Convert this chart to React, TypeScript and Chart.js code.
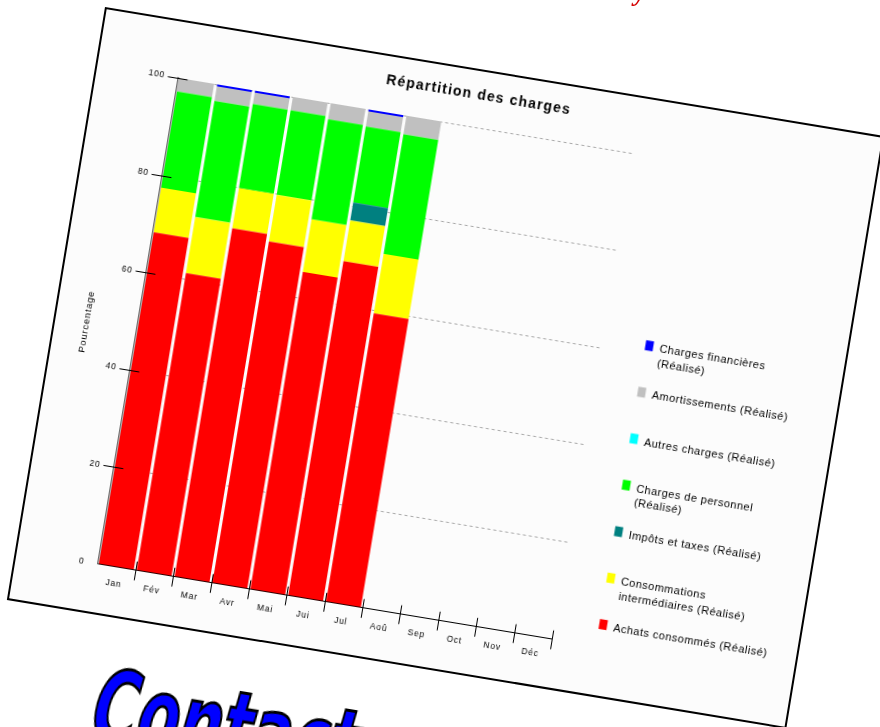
import { useEffect, useRef } from 'react';
import { Chart, registerables } from 'chart.js';

Chart.register(...registerables);

// ---- Data ----
const months = ['Jan', 'Fév', 'Mar', 'Avr', 'Mai', 'Jui', 'Jul', 'Aoû', 'Sep', 'Oct', 'Nov', 'Déc'];
const achatsConsommes = [68.3, 61.2, 71.7, 70.3, 65.3, 68.8, 59.4];
const consommationsInter = [9.2, 11.5, 8.3, 9.6, 10.8, 8.4, 12.2];
const impotsTaxes = [0, 0, 0, 0, 0, 3.7, 0];
const chargesPersonnel = [19.8, 23.9, 17.3, 17.4, 20.6, 15.6, 24.6];
const autresCharges = [0, 0, 0, 0, 0, 0, 0];
const amortissements = [2.7, 3.0, 2.3, 2.7, 3.3, 3.1, 3.8];
const chargesFinancieres = [0, 0.4, 0.4, 0, 0, 0.4, 0];
const yTicks = [0, 20, 40, 60, 80, 100];

const seriesNames = [
  'Achats consommés (Réalisé)',
  'Consommations\nintermédiaires (Réalisé)',
  'Impôts et taxes (Réalisé)',
  'Charges de\u00a0personnel\n(Réalisé)',
  'Autres charges (Réalisé)',
  'Amortissements (Réalisé)',
  'Charges financières\n(Réalisé)',
];
const seriesColors = ['#ff0000', '#ffff00', '#008080', '#00ff00', '#00ffff', '#c0c0c0', '#0000ff'];
const seriesValues = [
  achatsConsommes,
  consommationsInter,
  impotsTaxes,
  chargesPersonnel,
  autresCharges,
  amortissements,
  chargesFinancieres,
];
const chartTitle = 'Répartition des charges';
const yTitle = 'Pourcentage';

const CANVAS_W = 786;
const CANVAS_H = 597;

const decorPlugin = {
  id: 'decor',
  beforeUpdate(chart: any) {
    chart.ctx.letterSpacing = '0.8px';
  },
  beforeDraw(chart: any) {
    chart.ctx.letterSpacing = '0.8px';
  },
  afterDatasetsDraw(chart: any) {
    const { ctx } = chart;
    const x = chart.scales.x;
    const y = chart.scales.y;
    ctx.save();
    ctx.strokeStyle = '#000';
    ctx.lineWidth = 1;
    // crossing ticks on the y axis
    y.ticks.forEach((t: any) => {
      if (t.value === 0) return;
      const py = Math.round(y.getPixelForValue(t.value)) + 0.5;
      ctx.beginPath();
      ctx.moveTo(x.left - 10, py);
      ctx.lineTo(x.left + 10, py);
      ctx.stroke();
    });
    // crossing ticks on the x axis at category boundaries
    const n = x.ticks.length;
    const w = (x.right - x.left) / n;
    for (let i = 1; i <= n; i++) {
      const px = Math.round(x.left + i * w) + 0.5;
      ctx.beginPath();
      ctx.moveTo(px, y.bottom - 9);
      ctx.lineTo(px, y.bottom + 10);
      ctx.stroke();
    }
    ctx.restore();
  },
  afterDraw(chart: any) {
    const { ctx, chartArea } = chart;
    const y = chart.scales.y;
    ctx.save();
    // y-axis title
    ctx.fillStyle = '#000';
    ctx.font = '9.5px "Liberation Sans", Arial, sans-serif';
    ctx.letterSpacing = '0.8px';
    ctx.textAlign = 'center';
    ctx.textBaseline = 'middle';
    ctx.save();
    ctx.translate(31.3, (y.top + y.bottom) / 2 + 9);
    ctx.rotate(-Math.PI / 2);
    ctx.fillText(yTitle, 0, 0);
    ctx.restore();
    // title
    ctx.font = 'bold 14px "Liberation Sans", Arial, sans-serif';
    ctx.letterSpacing = '1.2px';
    ctx.fillText(chartTitle, 381, 24);
    // legend (top item = top of stack)
    const ds = chart.data.datasets.slice().reverse();
    const sqX = chartArea.right + 44.5;
    const firstY = 243.3;
    const step = 47.1;
    ctx.font = '11px "Liberation Sans", Arial, sans-serif';
    ctx.letterSpacing = '0.5px';
    ctx.textAlign = 'left';
    ds.forEach((d: any, i: number) => {
      const cy = firstY + i * step;
      ctx.fillStyle = d.backgroundColor;
      ctx.fillRect(sqX, cy - 5, 8, 10);
      ctx.fillStyle = '#000';
      String(d.label)
        .split('\n')
        .forEach((ln: string, j: number) => {
          ctx.fillText(ln, sqX + 14.5, cy + 2 + j * 14.8);
        });
    });
    ctx.restore();
  },
};

export default function App() {
  const ref = useRef<HTMLCanvasElement | null>(null);

  useEffect(() => {
    if (!ref.current) return;
    const chart = new Chart(ref.current, {
      type: 'bar',
      data: {
        labels: months,
        datasets: seriesValues.map((vals, i) => ({
          label: seriesNames[i],
          data: vals,
          backgroundColor: seriesColors[i],
          borderWidth: 0,
          barPercentage: 0.92,
          categoryPercentage: 1.0,
        })),
      },
      options: {
        responsive: false,
        animation: false,
        devicePixelRatio: 1,
        layout: { padding: { left: 20, top: 56.1, right: 244.1, bottom: 0 } },
        plugins: {
          legend: { display: false },
          title: { display: false },
          tooltip: { enabled: false },
        },
        scales: {
          x: {
            stacked: true,
            offset: true,
            grid: { display: false, drawTicks: false },
            border: { display: true, color: '#000', width: 1 },
            ticks: {
              color: '#000',
              font: { family: '"Liberation Sans", Arial, sans-serif', size: 8.5 },
              padding: 12,
              maxRotation: 0,
              autoSkip: false,
            },
            afterFit: (s: any) => {
              s.height = 48.2;
            },
          },
          y: {
            stacked: true,
            min: 0,
            max: 100,
            afterBuildTicks: (s: any) => {
              s.ticks = yTicks.map((v) => ({ value: v }));
            },
            grid: { color: '#a8a8a8', lineWidth: 1, drawTicks: false },
            border: { display: true, color: '#6e6e6e', width: 1.5, dash: [3, 3] },
            ticks: {
              color: '#000',
              font: { family: '"Liberation Sans", Arial, sans-serif', size: 8.5 },
              padding: 13,
            },
            title: { display: false },
            afterFit: (s: any) => {
              s.width = 61.4;
            },
          },
        },
      },
      plugins: [decorPlugin],
    });
    return () => chart.destroy();
  }, []);

  return (
    <div>
      <div
        style={{
          position: 'fixed',
          left: 634,
          top: -20,
          fontFamily: '"Liberation Serif", serif',
          fontStyle: 'italic',
          fontWeight: 'bold',
          fontSize: 26,
          lineHeight: 1,
          color: '#d40000',
          whiteSpace: 'nowrap',
        }}
      >
        y
      </div>
      <div
        style={{
          position: 'fixed',
          left: 105,
          top: 7,
          width: 790,
          height: 601,
          boxSizing: 'border-box',
          border: '2px solid #000',
          background: '#fcfcfc',
          transformOrigin: '0 0',
          transform: 'rotate(9.4deg)',
        }}
      >
        <canvas
          ref={ref}
          width={CANVAS_W}
          height={CANVAS_H}
          style={{ display: 'block', width: CANVAS_W, height: CANVAS_H }}
        />
      </div>
      <div
        style={{
          position: 'fixed',
          left: 103,
          top: 655,
          transformOrigin: '0 0',
          transform: 'rotate(9.4deg) scaleY(1.5)',
          fontFamily: '"DejaVu Sans", sans-serif',
          fontStretch: 'condensed',
          fontStyle: 'italic',
          fontWeight: 'bold',
          fontSize: 68,
          lineHeight: 1,
          color: '#0000ff',
          WebkitTextStroke: '2px #000',
          whiteSpace: 'nowrap',
        }}
      >
        Contact
      </div>
    </div>
  );
}
